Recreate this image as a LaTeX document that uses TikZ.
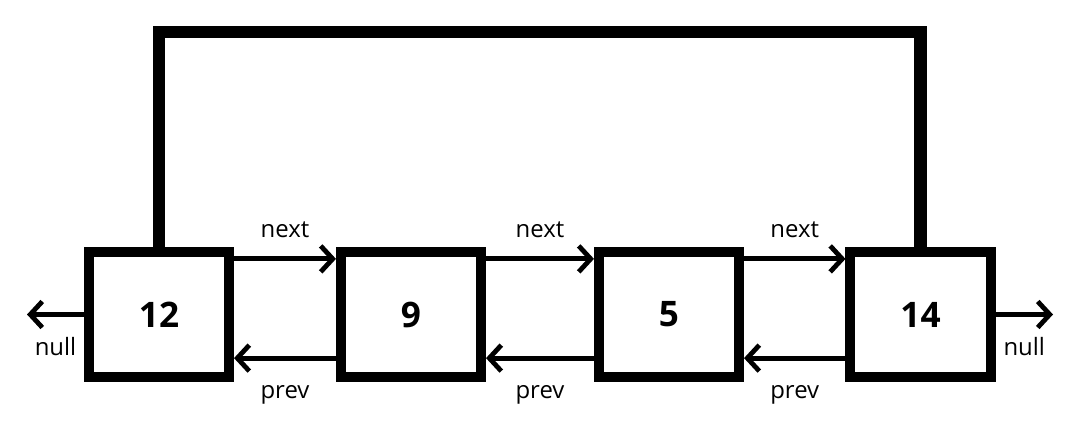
\documentclass[tikz,border=0pt]{standalone}
\usepackage{fontspec}
\setmainfont{Open Sans}
\usetikzlibrary{arrows.meta, positioning}
\tikzset{
  elem/.style={rectangle, draw=black, line width=0.25cm, minimum width=3.5cm, minimum height=3.125cm, text centered, inner sep=0, font=\fontsize{25}{30}\selectfont\bfseries},
  ptr/.style={line width=0.12cm, -{Straight Barb[length=0.3cm, width=0.65cm]}},
  lbl/.style={font=\fontsize{17}{20}\selectfont, inner sep=0},
  wrap/.style={line width=0.31cm}
}

\begin{document}
\begin{tikzpicture}[x=0.025cm, y=0.025cm]
      \useasboundingbox (0,0) rectangle (1082,426);
      \node[elem](e1) at (159, 111.5){12};
      \node[elem](e2) at (411, 111.5){9};
      \node[elem](e3) at (669, 111.5){5};
      \node[elem](e4) at (920.5, 111.5){14};

      \draw[ptr]([yshift=1.39cm]e1.east)--node[lbl, above=0.475cm]{next}([yshift=1.39cm]e2.west);
      \draw[ptr]([yshift=1.39cm]e2.east)--node[lbl, above=0.475cm]{next}([yshift=1.39cm]e3.west);
      \draw[ptr]([yshift=1.39cm]e3.east)--node[lbl, above=0.475cm]{next}([yshift=1.39cm]e4.west);

      \draw[ptr]([yshift=-1.09cm]e2.west)--node[lbl, below=0.62cm]{prev}([yshift=-1.09cm]e1.east);
      \draw[ptr]([yshift=-1.09cm]e3.west)--node[lbl, below=0.62cm]{prev}([yshift=-1.09cm]e2.east);
      \draw[ptr]([yshift=-1.09cm]e4.west)--node[lbl, below=0.62cm]{prev}([yshift=-1.09cm]e3.east);

      \coordinate(nl) at (27, 111.5);
      \coordinate(nr) at (1053, 111.5);
      \draw[ptr](e1.west)--node[lbl, below=0.52cm]{null}(nl);
      \draw[ptr](e4.east)--node[lbl, below=0.52cm]{null}(nr);

      \coordinate(top) at (540, 394);
      \draw[wrap](e1.north)|-(top)-|(e4.north);
    \end{tikzpicture}
\end{document}
